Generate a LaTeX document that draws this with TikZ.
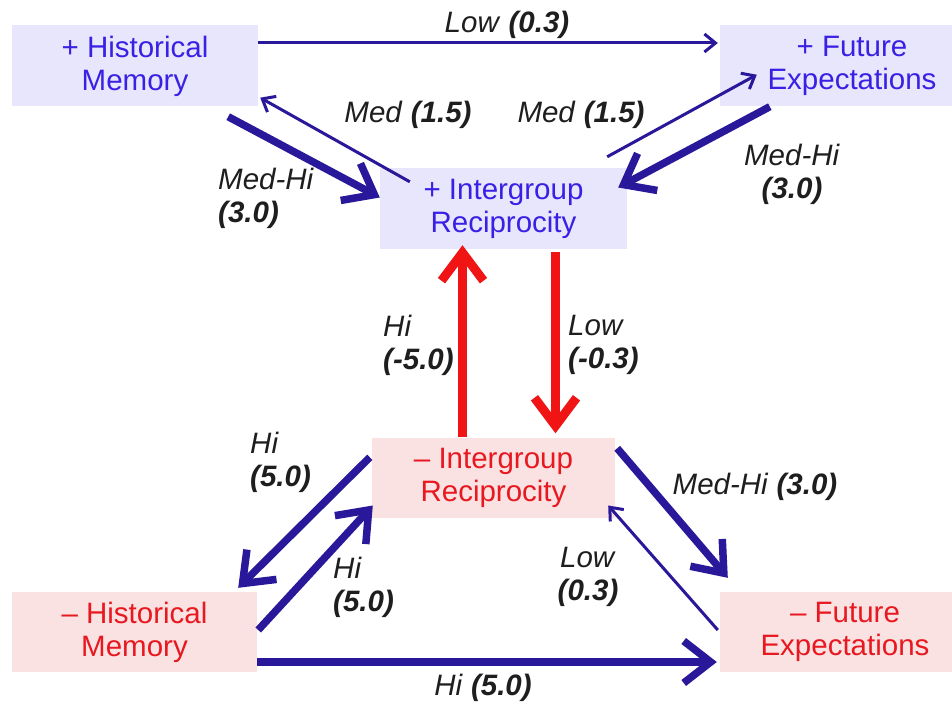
\documentclass[tikz,border=0pt]{standalone}
\usepackage{fontspec}
\setmainfont{Liberation Sans}
\usetikzlibrary{arrows.meta}
\definecolor{topfill}{RGB}{232,230,252}
\definecolor{toptext}{RGB}{58,32,228}
\definecolor{botfill}{RGB}{251,226,226}
\definecolor{bottext}{RGB}{232,24,32}
\definecolor{navy}{RGB}{42,24,154}
\definecolor{redarr}{RGB}{240,20,20}
\definecolor{labc}{RGB}{30,30,30}
\newcommand{\lw}[1]{\textit{#1}}
\newcommand{\lv}[1]{\textbf{\textit{#1}}}
\begin{document}
\begin{tikzpicture}[x=1pt,y=-1pt,
  bigfont/.style={font=\fontsize{29.5}{33}\selectfont},
  posbox/.style={bigfont,fill=topfill,text=toptext,inner sep=0pt,align=center,minimum height=81pt},
  negbox/.style={bigfont,fill=botfill,text=bottext,inner sep=0pt,align=center,minimum height=80pt},
  lab/.style={bigfont,text=labc,inner sep=0pt},
  thinarr/.style={draw=navy,line width=3pt,-{Straight Barb[length=11pt,width=18pt]}},
  thickarr/.style={draw=navy,line width=7.5pt,-{Straight Barb[length=27pt,width=42pt]}},
  redarrow/.style={draw=redarr,line width=9pt,-{Straight Barb[length=28pt,width=42pt]}}]
\useasboundingbox (0,0) rectangle (952,706);
\clip (0,0) rectangle (952,706);
\fill[white] (0,0) rectangle (952,706);
% boxes
\node[posbox,minimum width=246pt] (phm) at (135,66) {+ Historical\\Memory};
\node[posbox,minimum width=264pt] (pfe) at (852,66) {+ Future\\Expectations};
\node[posbox,minimum width=247pt] (pir) at (503.5,208.5) {+ Intergroup\\Reciprocity};
\node[negbox,minimum width=243pt] (mir) at (493.5,477.5) {– Intergroup\\Reciprocity};
\node[negbox,minimum width=245pt] (mhm) at (134.5,632) {– Historical\\Memory};
\node[negbox,minimum width=250pt] (mfe) at (845,632) {– Future\\Expectations};
% arrows
\draw[thinarr] ([yshift=23pt]phm.east) -- ([yshift=23pt,xshift=-2pt]pfe.west);
\draw[thinarr] ([xshift=30pt,yshift=-14pt]pir.north west) -- ([xshift=2pt,yshift=9pt]phm.south east);
\draw[thickarr] ([xshift=-30pt,yshift=-10pt]phm.south east) -- ([yshift=11pt]pir.west);
\draw[thinarr] ([xshift=-20pt,yshift=11pt]pir.north east) -- ([xshift=37pt,yshift=32pt]pfe.south west);
\draw[thickarr] ([xshift=50pt]pfe.south west) -- ([xshift=-9pt,yshift=21pt]pir.east);
\draw[redarrow] ([xshift=-31pt]mir.north) -- ([xshift=-41pt,yshift=4pt]pir.south);
\draw[redarrow] ([xshift=52pt,yshift=-3pt]pir.south) -- ([xshift=62pt,yshift=4pt]mir.north);
\draw[thickarr] ([xshift=-2pt,yshift=-20pt]mir.north west) -- ([xshift=-19pt,yshift=4pt]mhm.north east);
\draw[thickarr] ([xshift=1pt,yshift=2pt]mhm.east) -- ([xshift=1pt,yshift=-28pt]mir.west);
\draw[thickarr] ([xshift=2pt,yshift=-11pt]mir.north east) -- ([xshift=8pt,yshift=14pt]mfe.north west);
\draw[thinarr] ([xshift=-2pt,yshift=2pt]mfe.west) -- ([xshift=-7pt,yshift=-28pt]mir.east);
\draw[thickarr] ([yshift=-30pt]mhm.east) -- ([xshift=-3pt,yshift=-30pt]mfe.west);
% labels
\node[lab] (l1) at (507,25) {\lw{Low} \lv{(0.3)}};
\node[lab] (l2) at (408,115) {\lw{Med} \lv{(1.5)}};
\node[lab] (l3) at (581,115) {\lw{Med} \lv{(1.5)}};
\node[lab,anchor=west,align=left] (l4) at (218,198) {\lw{Med-Hi}\\\lv{(3.0)}};
\node[lab,align=center] (l5) at (792,174) {\lw{Med-Hi}\\\lv{(3.0)}};
\node[lab,anchor=west,align=left] (l6) at (383,345) {\lw{Hi}\\\lv{(-5.0)}};
\node[lab,anchor=west,align=left] (l7) at (568,345) {\lw{Low}\\\lv{(-0.3)}};
\node[lab,anchor=west,align=left] (l8) at (250,462) {\lw{Hi}\\\lv{(5.0)}};
\node[lab,anchor=west,align=left] (l9) at (333,587) {\lw{Hi}\\\lv{(5.0)}};
\node[lab] (l10) at (755,487) {\lw{Med-Hi} \lv{(3.0)}};
\node[lab,align=center] (l11) at (588,577) {\lw{Low}\\\lv{(0.3)}};
\node[lab] (l12) at (483,688) {\lw{Hi} \lv{(5.0)}};
\end{tikzpicture}
\end{document}
